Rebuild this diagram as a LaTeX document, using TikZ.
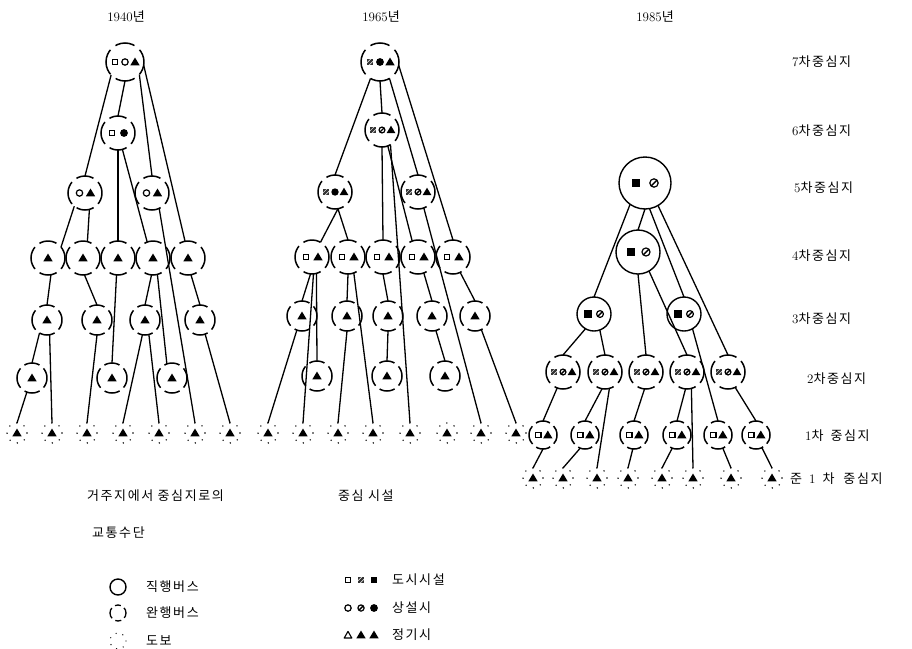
\documentclass[tikz,border=0pt]{standalone}
\usepackage{fontspec}
\newfontfamily\kr[LetterSpace=12]{Noto Sans CJK KR}
\usetikzlibrary{calc}
\newcommand\syms[3]{\foreach \dx/\p in {#3}{\edef\tmpsym{\noexpand\pic[scale=#2] at ($(#1)+(\dx,0)$) {\p};}\tmpsym}}
\tikzset{
  pics/so/.style={code={\draw[line width=1.2pt] (-2.8,-2.8) rectangle (2.8,2.8);}},
  pics/sf/.style={code={\fill (-3.3,-3.3) rectangle (3.3,3.3);}},
  pics/sh/.style={code={\fill[black!80] (-3.3,-3.3) rectangle (3.3,3.3);
     \draw[white,line width=0.45pt] (-3.3,1)--(1,-3.3) (-1,3.3)--(3.3,-1);}},
  pics/co/.style={code={\draw[line width=1.2pt] (0,0) circle (3.2);}},
  pics/cf/.style={code={\fill (0,0) circle (3.9);}},
  pics/ch/.style={code={\draw[line width=1.2pt] (0,0) circle (3.1); \draw[line width=1.4pt] (-2.1,2.1)--(2.1,-2.1);}},
  pics/to/.style={code={\draw[line width=1.1pt,line join=round] (0,-3.6)--(3.8,3)--(-3.8,3)--cycle;}},
  pics/tf/.style={code={\fill (0,-4.5)--(4.7,3.4)--(-4.7,3.4)--cycle;}},
}
\begin{document}
\begin{tikzpicture}[x=1pt,y=-1pt,
  conn/.style={line width=1.3pt},
  busA/.style={circle,minimum size=38pt,inner sep=0pt,outer sep=0pt,draw,line width=1.5pt,dash pattern=on 26.53pt off 6.63pt on 19.9pt off 6.63pt,dash phase=13.26pt},
  busB/.style={circle,minimum size=34pt,inner sep=0pt,outer sep=0pt,draw,line width=1.5pt,dash pattern=on 23.74pt off 5.93pt on 17.8pt off 5.93pt,dash phase=11.87pt},
  busC/.style={circle,minimum size=30pt,inner sep=0pt,outer sep=0pt,draw,line width=1.5pt,dash pattern=on 20.94pt off 5.24pt on 15.71pt off 5.24pt,dash phase=10.47pt},
  busD/.style={circle,minimum size=28pt,inner sep=0pt,outer sep=0pt,draw,line width=1.5pt,dash pattern=on 19.55pt off 4.89pt on 14.66pt off 4.89pt,dash phase=9.77pt},
  walk/.style={circle,minimum size=20pt,inner sep=0pt,outer sep=0pt,draw,line width=1.6pt,line cap=round,dash pattern=on 0pt off 7.85pt},
  solc/.style={circle,inner sep=0pt,outer sep=0pt,draw,line width=1.4pt},
  lab/.style={anchor=west,inner sep=0pt,font=\fontsize{13}{15}\selectfont},
  labc/.style={inner sep=0pt,font=\fontsize{13}{15}\selectfont},
]
\useasboundingbox (0,0) rectangle (912,648);
\fill[white] (0,0) rectangle (912,648);

% ---------- titles ----------
\node[labc] (t1) at (126,17) {1940{\kr 년}};
\node[labc] (t2) at (381,17) {1965{\kr 년}};
\node[labc] (t3) at (655,17) {1985{\kr 년}};

% ---------- level labels ----------
\node[lab] (l7) at (792,62) {7{\kr 차중심지}};
\node[lab] (l6) at (792,131) {6{\kr 차중심지}};
\node[lab] (l5) at (794,188) {5{\kr 차중심지}};
\node[lab] (l4) at (792,256) {4{\kr 차중심지}};
\node[lab] (l3) at (792,319) {3{\kr 차중심지}};
\node[lab] (l2) at (807,379) {2{\kr 차중심지}};
\node[lab] (l1) at (805,436) {1{\kr 차\hspace{7pt}중심지}};
\node[lab] (l0) at (790,479) {{\kr 준}\hspace{7pt}1\hspace{7pt}{\kr 차\hspace{9pt}중심지}};

% ---------- 1940 ----------
\node[busA] (A7) at (125,62) {};
\node[busB] (A6) at (118,133) {};
\node[busB] (A5a) at (85,193) {};
\node[busB] (A5b) at (152,193) {};
\foreach \n/\x in {a/48,b/83,c/118,d/153,e/188} \node[busB] (A4\n) at (\x,258) {};
\foreach \n/\x in {a/47,b/97,c/145,d/200} \node[busC] (A3\n) at (\x,320) {};
\foreach \n/\x in {a/32,b/112,c/172} \node[busC] (A2\n) at (\x,378) {};
\foreach \n/\x in {a/17,b/52,c/87,d/123,e/159,f/195,g/230} \node[walk] (A1\n) at (\x,433) {};
\syms{A7}{1}{-10/so,0/co,10/tf}
\syms{A6}{1}{-6/so,6/cf}
\syms{A5a}{1}{-5.5/co,5.5/tf}
\syms{A5b}{1}{-5.5/co,5.5/tf}
\foreach \n in {A4a,A4b,A4c,A4d,A4e,A3a,A3b,A3c,A3d,A2a,A2b,A2c,A1a,A1b,A1c,A1d,A1e,A1f,A1g} \pic at (\n) {tf};

\draw[conn] (A7.south) -- (A6.north);
\draw[conn] (A7.223) -- (A5a.north);
\draw[conn] (A7.319) -- (A5b.north);
\draw[conn] (A7.350) -- (A4e.100);
\draw[conn] (A6.south) -- (A4c.north);
\draw[conn] (A6.285) -- (A4d.110);
\draw[conn] (A5a.231) -- (A4a.40);
\draw[conn] (A5a.285) -- (A4b.75);
\draw[conn] (A5b.295) -- (A1f.north);
\draw[conn] (A4a.280) -- (A3a.north);
\draw[conn] (A4b.275) -- (A3b.north);
\draw[conn] (A4c.265) -- (A2b.north);
\draw[conn] (A4d.265) -- (A3c.north);
\draw[conn] (A4d.285) -- (A2c.110);
\draw[conn] (A4e.280) -- (A3d.north);
\draw[conn] (A3a.240) -- (A2a.north);
\draw[conn] (A3a.280) -- (A1b.north);
\draw[conn] (A3b.south) -- (A1c.north);
\draw[conn] (A3c.260) -- (A1d.north);
\draw[conn] (A3c.285) -- (A1e.north);
\draw[conn] (A3d.290) -- (A1g.north);
\draw[conn] (A2a.250) -- (A1a.north);

% ---------- 1965 ----------
\node[busA] (B7) at (380,62) {};
\node[busB] (B6) at (382,130) {};
\node[busB] (B5a) at (335,192) {};
\node[busB] (B5b) at (418,192) {};
\foreach \n/\x in {a/312,b/348,c/383,d/418,e/453} \node[busB] (B4\n) at (\x,257) {};
\foreach \n/\x in {a/302,b/347,c/388,d/432,e/475} \node[busC] (B3\n) at (\x,316) {};
\foreach \n/\x in {a/317,b/387,c/445} \node[busC] (B2\n) at (\x,376) {};
\foreach \n/\x in {a/268,b/303,c/338,d/373,e/410,f/447,g/481,h/516} \node[walk] (B1\n) at (\x,433) {};
\syms{B7}{1}{-10/sh,0/cf,10/tf}
\syms{B6}{0.95}{-9/sh,0/ch,9/tf}
\syms{B5a}{0.95}{-9/sh,0/cf,9/tf}
\syms{B5b}{0.95}{-9/sh,0/ch,9/tf}
\foreach \n in {B4a,B4b,B4c,B4d,B4e} {\syms{\n}{1}{-6/so,6/tf}}
\foreach \n in {B3a,B3b,B3c,B3d,B3e,B2a,B2b,B2c,B1a,B1b,B1c,B1d,B1e,B1f,B1g,B1h} \pic at (\n) {tf};

\draw[conn] (B7.south) -- (B6.north);
\draw[conn] (B7.240) -- (B5a.north);
\draw[conn] (B7.300) -- (B5b.north);
\draw[conn] (B7.350) -- (B4e.north);
\draw[conn] (B6.south) -- (B4c.north);
\draw[conn] (B6.290) -- (B4d.110);
\draw[conn] (B6.300) -- (B1e.north);
\draw[conn] (B5a.280) -- (B4a.60);
\draw[conn] (B5a.280) -- (B4b.north);
\draw[conn] (B5b.290) -- (B1g.north);
\draw[conn] (B4a.265) -- (B3a.north);
\draw[conn] (B4a.285) -- (B2a.north);
\draw[conn] (B4a.275) -- (B1b.north);
\draw[conn] (B3a.250) -- (B1a.north);
\draw[conn] (B4b.south) -- (B3b.north);
\draw[conn] (B4b.290) -- (B1d.north);
\draw[conn] (B3b.south) -- (B1c.north);
\draw[conn] (B4c.south) -- (B3c.north);
\draw[conn] (B3c.south) -- (B2b.north);
\draw[conn] (B4d.290) -- (B3d.north);
\draw[conn] (B3d.285) -- (B2c.north);
\draw[conn] (B4e.295) -- (B3e.north);
\draw[conn] (B3e.295) -- (B1h.north);

% ---------- 1985 ----------
\node[solc,minimum size=52pt] (C5) at (645,183) {};
\node[solc,minimum size=44pt] (C4) at (638,252) {};
\node[solc,minimum size=34pt] (C3a) at (594,314) {};
\node[solc,minimum size=34pt] (C3b) at (684,314) {};
\foreach \n/\x in {a/563,b/605,c/646,d/687,e/728} \node[busB] (C2\n) at (\x,372) {};
\foreach \n/\x in {a/543,b/585,c/634,d/677,e/718,f/756} \node[busD] (C1\n) at (\x,435) {};
\foreach \n/\x in {a/533,b/563,c/597,d/628,e/662,f/693,g/731,h/772} \node[walk] (C0\n) at (\x,478) {};
\syms{C5}{1.35}{-9/sf,9/ch}
\syms{C4}{1.3}{-7/sf,8/ch}
\syms{C3a}{1.1}{-6/sf,6/ch}
\syms{C3b}{1.1}{-6/sf,6/ch}
\foreach \n in {C2a,C2b,C2c,C2d,C2e} {\syms{\n}{0.95}{-9/sh,0/ch,9/tf}}
\foreach \n in {C1a,C1b,C1c,C1d,C1e,C1f} {\syms{\n}{1}{-4.8/so,4.8/tf}}
\foreach \n in {C0a,C0b,C0c,C0d,C0e,C0f,C0g,C0h} \pic at (\n) {tf};

\draw[conn] (C5.235) -- (C3a.north);
\draw[conn] (C5.south) -- (C4.north);
\draw[conn] (C5.280) -- (C3b.north);
\draw[conn] (C5.300) -- (C2e.north);
\draw[conn] (C4.south) -- (C2c.north);
\draw[conn] (C4.300) -- (C2d.north);
\draw[conn] (C3a.240) -- (C2a.north);
\draw[conn] (C3a.290) -- (C2b.north);
\draw[conn] (C3b.300) -- (C1e.north);
\draw[conn] (C2a.250) -- (C1a.north);
\draw[conn] (C2b.260) -- (C1b.north);
\draw[conn] (C2b.285) -- (C0c.north);
\draw[conn] (C2c.265) -- (C1c.north);
\draw[conn] (C2d.265) -- (C1d.north);
\draw[conn] (C2d.285) -- (C0f.north);
\draw[conn] (C2e.295) -- (C1f.north);
\draw[conn] (C1a.south) -- (C0a.north);
\draw[conn] (C1b.250) -- (C0b.north);
\draw[conn] (C1c.265) -- (C0d.north);
\draw[conn] (C1d.250) -- (C0e.north);
\draw[conn] (C1e.290) -- (C0g.north);
\draw[conn] (C1f.295) -- (C0h.north);

% ---------- legend ----------
\node[lab] (g1) at (87,496) {\kr 거주지에서\ 중심지로의};
\node[lab] (g2) at (92,533) {\kr 교통수단};
\node[lab] (g3) at (338,496) {\kr 중심\ 시설};

\node[solc,minimum size=16pt] (k1) at (118,587) {};
\node[circle,minimum size=16pt,inner sep=0pt,draw,line width=1.3pt,dash pattern=on 11.17pt off 3.98pt on 6pt off 3.98pt,dash phase=5.58pt] (k2) at (118,613) {};
\node[circle,minimum size=16pt,inner sep=0pt,draw,line width=1.4pt,line cap=round,dash pattern=on 0pt off 7.2pt] (k3) at (118,641) {};
\node[lab] (k1t) at (146,587) {\kr 직행버스};
\node[lab] (k2t) at (146,613) {\kr 완행버스};
\node[lab] (k3t) at (146,641) {\kr 도보};

\coordinate (m1) at (348,580);
\coordinate (m2) at (348,608);
\coordinate (m3) at (348,635);
\syms{m1}{1}{0/so,13/sh,26/sf}
\syms{m2}{1}{0/co,13/ch,26/cf}
\syms{m3}{1}{0/to,13/tf,26/tf}
\node[lab] (m1t) at (392,580) {\kr 도시시설};
\node[lab] (m2t) at (392,608) {\kr 상설시};
\node[lab] (m3t) at (392,635) {\kr 정기시};
\end{tikzpicture}
\end{document}
